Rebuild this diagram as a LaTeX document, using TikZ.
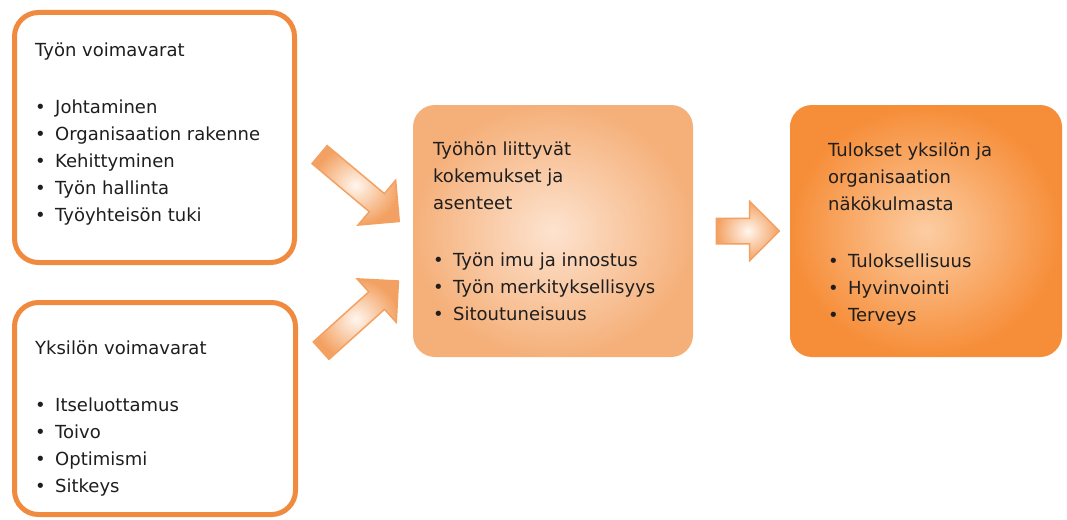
\documentclass[tikz,border=0pt]{standalone}
\usepackage{fontspec}
\setmainfont{DejaVu Sans}
\usetikzlibrary{shapes.arrows,calc}
\definecolor{rim}{HTML}{F08A3E}
\definecolor{peachin}{HTML}{FDE3CF}
\definecolor{peachout}{HTML}{F5B07A}
\definecolor{orangein}{HTML}{FCCDA3}
\definecolor{orangeout}{HTML}{F68D38}
\definecolor{arrowcore}{HTML}{FFF6EE}
\definecolor{arrowedge}{HTML}{F3A162}
\definecolor{ink}{HTML}{1E1E1E}
\newcommand\bl{\makebox[20pt][l]{\textbullet}}
\tikzset{
  resbox/.style={draw=rim, line width=5pt, rounded corners=24pt, fill=white, inner sep=0pt},
  midbox/.style={rounded corners=22pt, inner color=peachin, outer color=peachout, inner sep=0pt},
  endbox/.style={rounded corners=22pt, inner color=orangein, outer color=orangeout, inner sep=0pt},
  blockarrow/.style={single arrow, inner xsep=0pt, draw=arrowedge, line width=1.5pt,
              inner color=arrowcore, outer color=arrowedge},
  txt/.style={anchor=north west, align=left, inner sep=0pt, text=ink},
}

\begin{document}
\begin{tikzpicture}[x=1pt, y=-1pt, font=\fontsize{18}{27}\selectfont]
  \useasboundingbox[fill=white] (0,0) rectangle (1067,519);
  % boxes
  \node[resbox, minimum width=280pt, minimum height=250pt] (tyo) at (154.5,137.5) {};
  \node[resbox, minimum width=281pt, minimum height=212pt] (yks) at (155,408.5) {};
  \node[midbox, minimum width=280pt, minimum height=252pt] (koke) at (553,231) {};
  \node[endbox, minimum width=272pt, minimum height=252pt] (tul) at (926,231) {};
  % texts
  \node[txt] (tyo-t) at (35,43) {Työn voimavarat\\[30pt]
    \bl Johtaminen\\ \bl Organisaation rakenne\\ \bl Kehittyminen\\
    \bl Työn hallinta\\ \bl Työyhteisön tuki};
  \node[txt] (yks-t) at (35,341) {Yksilön voimavarat\\[30pt]
    \bl Itseluottamus\\ \bl Toivo\\ \bl Optimismi\\ \bl Sitkeys};
  \node[txt] (koke-t) at (433,142) {Työhön liittyvät\\ kokemukset ja\\ asenteet\\[30pt]
    \bl Työn imu ja innostus\\ \bl Työn merkityksellisyys\\ \bl Sitoutuneisuus};
  \node[txt] (tul-t) at (828,143) {Tulokset yksilön ja\\ organisaation\\ näkökulmasta\\[30pt]
    \bl Tuloksellisuus\\ \bl Hyvinvointi\\ \bl Terveys};
  % arrows
  \node[blockarrow, minimum height=104pt, inner ysep=11pt, single arrow head extend=17.5pt,
        rotate=-40] (ar1) at ($(tyo.east)!0.5!(koke.west)$) {};
  \node[blockarrow, minimum height=104pt, inner ysep=11pt, single arrow head extend=17.5pt,
        rotate=42] (ar2) at ($(yks.east)!0.5!(koke.west)$) {};
  \node[blockarrow, minimum height=63pt, inner ysep=12pt, single arrow head extend=17pt]
        (ar3) at ($(koke.east)!0.5!(tul.west)$) {};
\end{tikzpicture}
\end{document}
